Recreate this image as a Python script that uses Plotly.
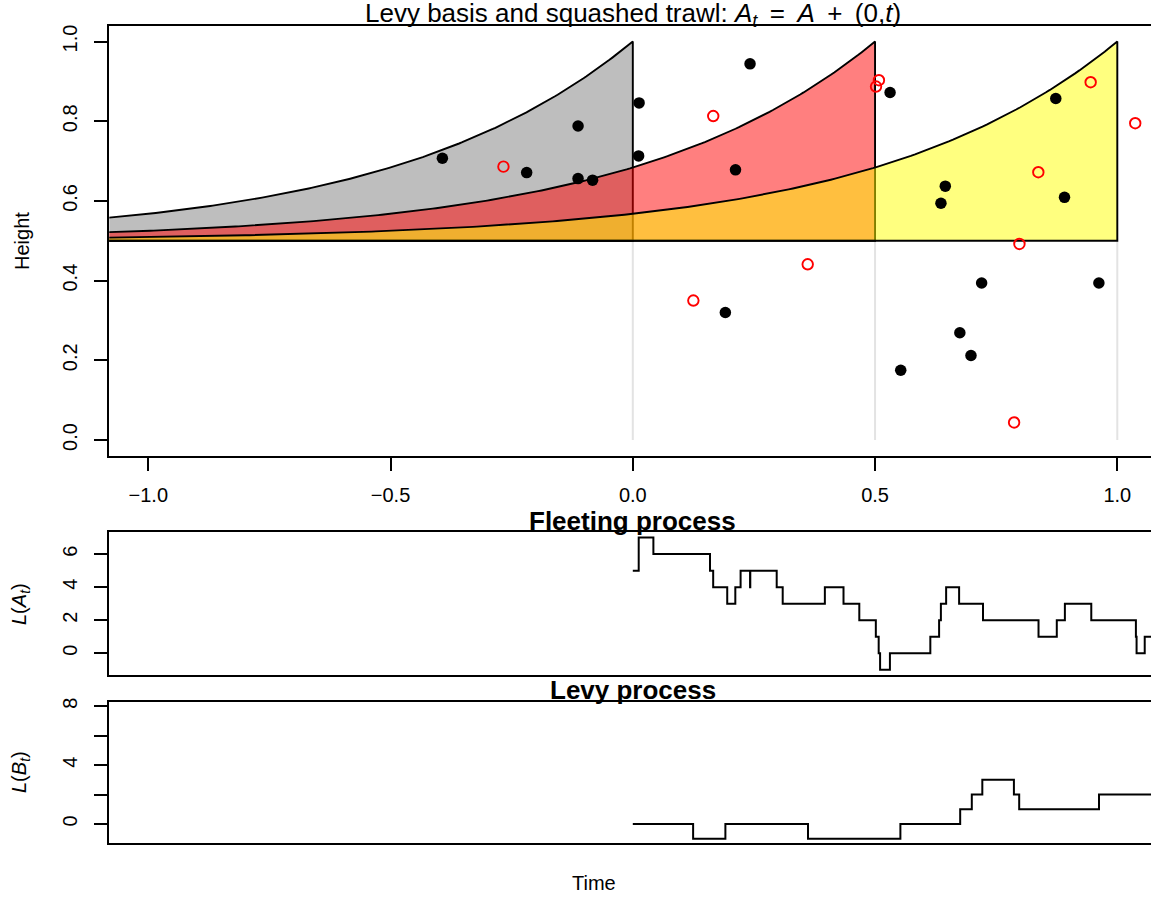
import numpy as np
import plotly.graph_objects as go

# ---------------- data ----------------
# Levy basis points (time, height); black = positive jumps, red = negative jumps
pos_t = [-0.393, -0.219, -0.113, -0.113, -0.083, 0.013, 0.012, 0.242, 0.212, 0.531,
         0.873, 0.645, 0.636, 0.891, 0.191, 0.720, 0.962, 0.675, 0.698, 0.553]
pos_h = [0.707, 0.671, 0.788, 0.656, 0.652, 0.846, 0.713, 0.944, 0.678, 0.872,
         0.857, 0.637, 0.594, 0.609, 0.320, 0.394, 0.394, 0.269, 0.212, 0.175]
neg_t = [-0.267, 0.166, 0.508, 0.502, 0.945, 1.037, 0.837, 0.798, 0.361, 0.125, 0.787]
neg_h = [0.686, 0.813, 0.903, 0.887, 0.898, 0.795, 0.672, 0.492, 0.441, 0.350, 0.044]

# trawl parameters
trawl_times = [0.0, 0.5, 1.0]
trawl_fills = ["#BEBEBE", "rgba(255,0,0,0.5)", "rgba(255,255,0,0.5)"]
trawl_base = 0.5
trawl_lambda = 2.0

# Fleeting process L(A_t): jump times and values after each jump
fl_t = [0.0, 0.0122, 0.0425, 0.1593, 0.1659, 0.1949, 0.2116, 0.2225, 0.2420, 0.2425,
        0.2970, 0.3094, 0.3964, 0.4349, 0.4675, 0.5016, 0.5075, 0.5104, 0.5307, 0.6141,
        0.6322, 0.6359, 0.6467, 0.6735, 0.7228, 0.8374, 0.8751, 0.8918, 0.9463, 1.0384,
        1.0398, 1.0566, 1.2]
fl_v = [5, 7, 6, 5, 4, 3, 4, 5, 4, 5,
        4, 3, 4, 3, 2, 1, 0, -1, 0, 1,
        2, 3, 4, 3, 2, 1, 2, 3, 2, 1,
        0, 1, 1]

# Levy process L(B_t)
lv_t = [0.0, 0.1245, 0.1911, 0.3616, 0.5523, 0.6757, 0.6997, 0.7214, 0.7866, 0.7975,
        0.9622, 1.2]
lv_v = [0, -1, 0, -1, 0, 1, 2, 3, 2, 1, 2, 2]

top_yticks = [0.0, 0.2, 0.4, 0.6, 0.8, 1.0]
top_yticktext = ["0.0", "0.2", "0.4", "0.6", "0.8", "1.0"]
xticks = [-1.0, -0.5, 0.0, 0.5, 1.0]
xticktext = ["\u22121.0", "\u22120.5", "0.0", "0.5", "1.0"]
fl_ticks = [0, 2, 4, 6]
lv_ticks = [0, 2, 4, 6, 8]
lv_ticktext = ["0", "", "4", "", "8"]

# ---------------- figure ----------------
W, H = 1151, 901
FONT = "Liberation Sans, Arial, Helvetica, sans-serif"
fig = go.Figure()

# light gray guide lines at trawl times
for t in trawl_times:
    fig.add_trace(go.Scatter(x=[t, t], y=[0, 1], mode="lines",
                             line=dict(color="#E3E3E3", width=2),
                             xaxis="x", yaxis="y", hoverinfo="skip", showlegend=False))

# trawl polygons
for t, fc in zip(trawl_times, trawl_fills):
    s = np.linspace(-1.6, t, 300)
    hgt = trawl_base + (1 - trawl_base) * np.exp(trawl_lambda * (s - t))
    px = np.concatenate([s, [t, s[0], s[0]]])
    py = np.concatenate([hgt, [trawl_base, trawl_base, hgt[0]]])
    fig.add_trace(go.Scatter(x=px, y=py, mode="lines", fill="toself", fillcolor=fc,
                             line=dict(color="black", width=1.9),
                             xaxis="x", yaxis="y", hoverinfo="skip", showlegend=False))

fig.add_trace(go.Scatter(x=pos_t, y=pos_h, mode="markers",
                         marker=dict(color="black", size=11.5, line=dict(width=0)),
                         xaxis="x", yaxis="y", showlegend=False))
fig.add_trace(go.Scatter(x=neg_t, y=neg_h, mode="markers",
                         marker=dict(symbol="circle-open", color="red", size=10.5,
                                     line=dict(width=1.9, color="red")),
                         xaxis="x", yaxis="y", showlegend=False))

fig.add_trace(go.Scatter(x=fl_t, y=fl_v, mode="lines", line_shape="hv",
                         line=dict(color="black", width=2),
                         xaxis="x2", yaxis="y2", showlegend=False))
fig.add_trace(go.Scatter(x=lv_t, y=lv_v, mode="lines", line_shape="hv",
                         line=dict(color="black", width=2),
                         xaxis="x3", yaxis="y3", showlegend=False))

# pixel helpers
def px_x(p):
    return p / W

def px_y(p):
    return 1 - p / H

x_left_px = 109.3
x_zero_px, x_unit = 632.8, 484.5
xr = [(x_left_px - x_zero_px) / x_unit, (W - x_zero_px) / x_unit]
xdom = [px_x(x_left_px), 1.0]

axis_common = dict(showline=True, linecolor="black", linewidth=1.8, showgrid=False,
                   zeroline=False, ticks="outside", ticklen=13, tickwidth=1.8,
                   tickcolor="black", automargin=False,
                   tickfont=dict(family=FONT, size=20, color="black"))

fig.update_layout(
    width=W, height=H, margin=dict(l=0, r=0, t=0, b=0),
    paper_bgcolor="white", plot_bgcolor="white", showlegend=False,
    xaxis=dict(axis_common, domain=xdom, range=xr, anchor="y", mirror=True,
               tickvals=xticks, ticktext=xticktext, ticklabelstandoff=7),
    yaxis=dict(axis_common, domain=[px_y(455.9), px_y(25.6)], range=[-0.04, 1.04],
               anchor="x", tickvals=top_yticks, ticktext=top_yticktext,
               tickangle=-90, ticklabelstandoff=9),
    xaxis2=dict(axis_common, domain=xdom, range=xr, anchor="y2", mirror=True,
                ticks="", showticklabels=False),
    yaxis2=dict(axis_common, domain=[px_y(675.1), px_y(532.3)], range=[-1.32, 7.32],
                anchor="x2", tickvals=fl_ticks, tickangle=-90, ticklabelstandoff=9),
    xaxis3=dict(axis_common, domain=xdom, range=xr, anchor="y3", mirror=True,
                ticks="", showticklabels=False),
    yaxis3=dict(axis_common, domain=[px_y(843.3), px_y(701.7)], range=[-1.31, 8.3],
                anchor="x3", tickvals=lv_ticks, ticktext=lv_ticktext,
                tickangle=-90, ticklabelstandoff=9),
)

def ann(text, x, y, size=20, angle=0, bold=False):
    if bold:
        text = "<b>" + text + "</b>"
    fig.add_annotation(text=text, xref="paper", yref="paper", x=px_x(x), y=px_y(y),
                       xanchor="center", yanchor="middle", showarrow=False,
                       textangle=angle, font=dict(family=FONT, size=size, color="black"))

ann("Levy basis and squashed trawl: <i>A</i><sub><i>t</i></sub> \u2009=\u2009 <i>A</i> \u2009+\u2009 (0,<i>t</i>)",
    632.6, 15, size=26)
ann("Fleeting process", 632.6, 521, size=26, bold=True)
ann("Levy process", 632.6, 690, size=26, bold=True)
ann("Height", 22, 241, size=20, angle=-90)
ann("<i>L</i>(<i>A</i><sub><i>t</i></sub>)", 20, 604, size=20, angle=-90)
ann("<i>L</i>(<i>B</i><sub><i>t</i></sub>)", 20, 772, size=20, angle=-90)
ann("Time", 594, 883, size=20)

fig.write_html("out.html")
